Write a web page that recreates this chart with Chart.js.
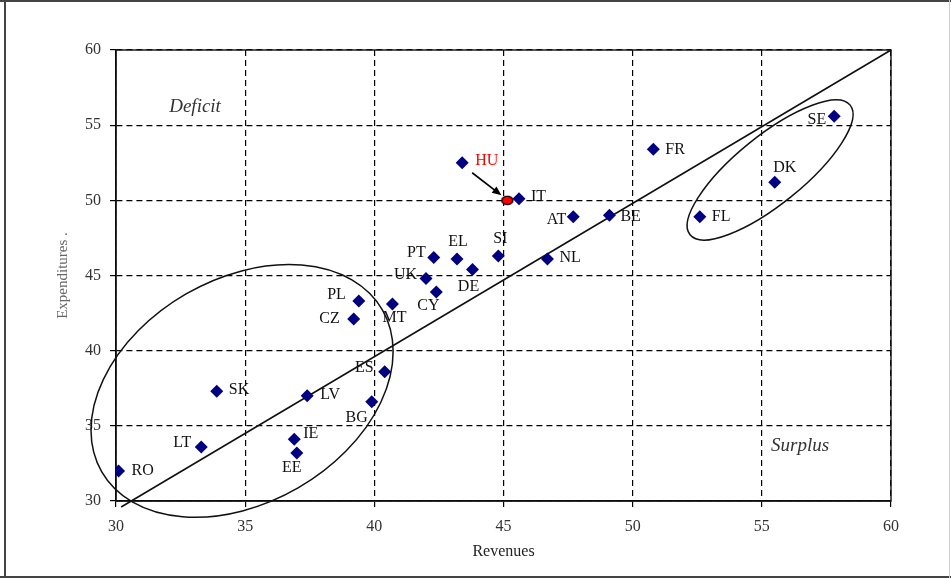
<!DOCTYPE html>
<html>
<head>
<meta charset="utf-8">
<title>Revenues vs Expenditures</title>
<script src="https://cdn.jsdelivr.net/npm/chart.js@4.4.0/dist/chart.umd.min.js"></script>
<style>
  html, body { margin: 0; padding: 0; background: #fff; }
  canvas { display: block; }
</style>
</head>
<body>
<canvas id="fiscalChart" width="951" height="578"></canvas>
<script>
// Data (% of GDP)
const countries = ['RO', 'LT', 'SK', 'LV', 'IE', 'EE', 'BG', 'ES', 'CZ', 'PL', 'MT', 'CY', 'UK',
  'PT', 'EL', 'DE', 'SI', 'HU', 'IT', 'AT', 'NL', 'BE', 'FR', 'FL', 'DK', 'SE'];
const revenues = [30.1, 33.3, 33.9, 37.4, 36.9, 37.0, 39.9, 40.4, 39.2, 39.4, 40.7, 42.4, 42.0,
  42.3, 43.2, 43.8, 44.8, 43.4, 45.6, 47.7, 46.7, 49.1, 50.8, 52.6, 55.5, 57.8];
const expenditures = [32.0, 33.6, 37.3, 37.0, 34.1, 33.2, 36.6, 38.6, 42.1, 43.3, 43.1, 43.9, 44.8,
  46.2, 46.1, 45.4, 46.3, 52.5, 50.1, 48.9, 46.1, 49.0, 53.4, 48.9, 51.2, 55.6];

// new HU position (red dot)
const huNewRevenue = [45.15];
const huNewExpenditure = [50.0];

// balance line
const diagRevenue = [30.2, 60];
const diagExpenditure = [29.6, 60];

const axisTicks = [30, 35, 40, 45, 50, 55, 60];

// ---- layout / annotation settings ----
const labelFont = "16px 'Liberation Serif', 'Times New Roman', serif";

// [dx, dy, align] in pixels from the marker
const labelOffset = {
  RO: [13, 0, 'left'], LT: [-10, -4, 'right'], SK: [12, -1, 'left'], LV: [13, -1, 'left'],
  IE: [9, -6, 'left'], EE: [-5, 15, 'center'], BG: [-4, 16, 'right'], ES: [-11, -4, 'right'],
  CZ: [-14, 0, 'right'], PL: [-13, -6, 'right'], MT: [2, 14, 'center'], CY: [-8, 14, 'center'],
  UK: [-9, -4, 'right'], PT: [-8, -5, 'right'], EL: [1, -17, 'center'], DE: [-4, 17, 'center'],
  SI: [2, -17, 'center'], HU: [13, -2, 'left'], IT: [12, -2, 'left'], AT: [-7, 3, 'right'],
  NL: [12, -1, 'left'], BE: [11, 1, 'left'], FR: [12, 1, 'left'], FL: [12, 0, 'left'],
  DK: [10, -14, 'center'], SE: [-8, 4, 'right']
};

// ellipses: centre in data units, semi axes in px, tilt in degrees
const groupEllipses = [
  { cx: 34.88, cy: 37.32, a: 162, b: 112, tilt: 30 },
  { cx: 55.32, cy: 52.02, a: 103, b: 34, tilt: 39 }
];

const cornerNotes = [
  { text: 'Deficit', x: 33.06, y: 56.2 },
  { text: 'Surplus', x: 56.48, y: 33.66 }
];

// red ellipse marker for HU
function makeRedDot() {
  const c = document.createElement('canvas');
  c.width = 14;
  c.height = 11;
  const g = c.getContext('2d');
  g.beginPath();
  g.ellipse(7, 5.5, 5.6, 4.2, 0, 0, Math.PI * 2);
  g.fillStyle = '#ff0000';
  g.fill();
  g.lineWidth = 1.3;
  g.strokeStyle = '#000';
  g.stroke();
  return c;
}

const extrasPlugin = {
  id: 'extras',
  beforeDraw(chart) {
    const ctx = chart.ctx;
    ctx.save();
    ctx.fillStyle = '#fff';
    ctx.fillRect(0, 0, chart.width, chart.height);
    // picture frame
    ctx.fillStyle = '#444';
    ctx.fillRect(0, 0, chart.width, 2);
    ctx.fillRect(4, 0, 2, chart.height);
    ctx.fillRect(0, chart.height - 2, chart.width, 2);
    ctx.fillStyle = '#ccc';
    ctx.fillRect(chart.width - 2, 0, 1, chart.height);
    ctx.restore();
  },
  beforeDatasetsDraw(chart) {
    const ctx = chart.ctx;
    const xs = chart.scales.x, ys = chart.scales.y;
    const area = chart.chartArea;
    ctx.save();
    // solid frame around plot area
    ctx.strokeStyle = '#111';
    ctx.lineWidth = 1.4;
    ctx.strokeRect(area.left, area.top, area.right - area.left, area.bottom - area.top);

    // group ellipses
    ctx.lineWidth = 1.5;
    ctx.strokeStyle = '#111';
    groupEllipses.forEach(e => {
      ctx.beginPath();
      ctx.ellipse(xs.getPixelForValue(e.cx), ys.getPixelForValue(e.cy), e.a, e.b,
        -e.tilt * Math.PI / 180, 0, Math.PI * 2);
      ctx.stroke();
    });

    // Deficit / Surplus
    ctx.font = "italic 19px 'Liberation Serif', 'Times New Roman', serif";
    ctx.fillStyle = '#333';
    ctx.textAlign = 'center';
    ctx.textBaseline = 'middle';
    cornerNotes.forEach(n => {
      ctx.fillText(n.text, xs.getPixelForValue(n.x), ys.getPixelForValue(n.y));
    });
    ctx.restore();
  },
  afterDatasetsDraw(chart) {
    const ctx = chart.ctx;
    const xs = chart.scales.x, ys = chart.scales.y;
    ctx.save();
    ctx.font = labelFont;
    ctx.textBaseline = 'middle';
    countries.forEach((c, i) => {
      const off = labelOffset[c] || [10, 0, 'left'];
      ctx.textAlign = off[2];
      ctx.fillStyle = c === 'HU' ? '#ff0000' : '#111';
      ctx.fillText(c, xs.getPixelForValue(revenues[i]) + off[0], ys.getPixelForValue(expenditures[i]) + off[1]);
    });

    // arrow from old HU to new HU
    const hu = countries.indexOf('HU');
    const x1 = xs.getPixelForValue(revenues[hu]) + 10;
    const y1 = ys.getPixelForValue(expenditures[hu]) + 10;
    const x2 = xs.getPixelForValue(huNewRevenue[0]) - 6;
    const y2 = ys.getPixelForValue(huNewExpenditure[0]) - 5;
    const ang = Math.atan2(y2 - y1, x2 - x1);
    ctx.strokeStyle = '#000';
    ctx.fillStyle = '#000';
    ctx.lineWidth = 1.6;
    ctx.beginPath();
    ctx.moveTo(x1, y1);
    ctx.lineTo(x2 - 6 * Math.cos(ang), y2 - 6 * Math.sin(ang));
    ctx.stroke();
    ctx.beginPath();
    ctx.moveTo(x2, y2);
    ctx.lineTo(x2 - 10 * Math.cos(ang - 0.4), y2 - 10 * Math.sin(ang - 0.4));
    ctx.lineTo(x2 - 10 * Math.cos(ang + 0.4), y2 - 10 * Math.sin(ang + 0.4));
    ctx.closePath();
    ctx.fill();
    ctx.restore();
  }
};

const tickFont = { family: "'Liberation Serif', 'Times New Roman', serif", size: 16 };

new Chart(document.getElementById('fiscalChart'), {
  type: 'scatter',
  data: {
    datasets: [
      {
        label: 'Countries',
        data: countries.map((c, i) => ({ x: revenues[i], y: expenditures[i] })),
        pointStyle: 'rectRot',
        pointRadius: 6.5,
        pointHoverRadius: 6.5,
        backgroundColor: '#000080',
        borderColor: '#000080',
        borderWidth: 0
      },
      {
        label: 'HU new',
        data: huNewRevenue.map((v, i) => ({ x: v, y: huNewExpenditure[i] })),
        pointStyle: makeRedDot(),
        pointRadius: 6
      },
      {
        label: 'Balance',
        type: 'line',
        data: diagRevenue.map((v, i) => ({ x: v, y: diagExpenditure[i] })),
        borderColor: '#111',
        borderWidth: 1.6,
        pointRadius: 0,
        showLine: true,
        fill: false,
        clip: false
      }
    ]
  },
  options: {
    responsive: false,
    animation: false,
    layout: { padding: { left: 0, top: 50, right: 60, bottom: 0 } },
    plugins: {
      legend: { display: false },
      tooltip: { enabled: false }
    },
    scales: {
      x: {
        type: 'linear',
        min: 30,
        max: 60,
        afterBuildTicks: s => { s.ticks = axisTicks.map(v => ({ value: v })); },
        afterFit: s => { s.height = 77; },
        grid: { color: '#000', lineWidth: 1.2, tickLength: 6, tickColor: '#000' },
        border: { display: true, color: '#000', width: 1.4, dash: [6, 4] },
        ticks: { font: tickFont, color: '#333', padding: 10, maxRotation: 0 },
        title: {
          display: true,
          text: 'Revenues',
          color: '#222',
          font: { family: "'Liberation Serif', 'Times New Roman', serif", size: 16 },
          padding: { top: 0, bottom: 17 }
        }
      },
      y: {
        type: 'linear',
        min: 30,
        max: 60,
        afterBuildTicks: s => { s.ticks = axisTicks.map(v => ({ value: v })); },
        afterFit: s => { s.width = 116; },
        grid: { color: '#000', lineWidth: 1.2, tickLength: 6, tickColor: '#000' },
        border: { display: true, color: '#000', width: 1.4, dash: [6, 4] },
        ticks: { font: tickFont, color: '#333', padding: 9 },
        title: {
          display: true,
          text: 'Expenditures .',
          color: '#666',
          font: { family: "'Liberation Serif', 'Times New Roman', serif", size: 15 },
          padding: { top: 54, bottom: 0 }
        }
      }
    }
  },
  plugins: [extrasPlugin]
});
</script>
</body>
</html>
